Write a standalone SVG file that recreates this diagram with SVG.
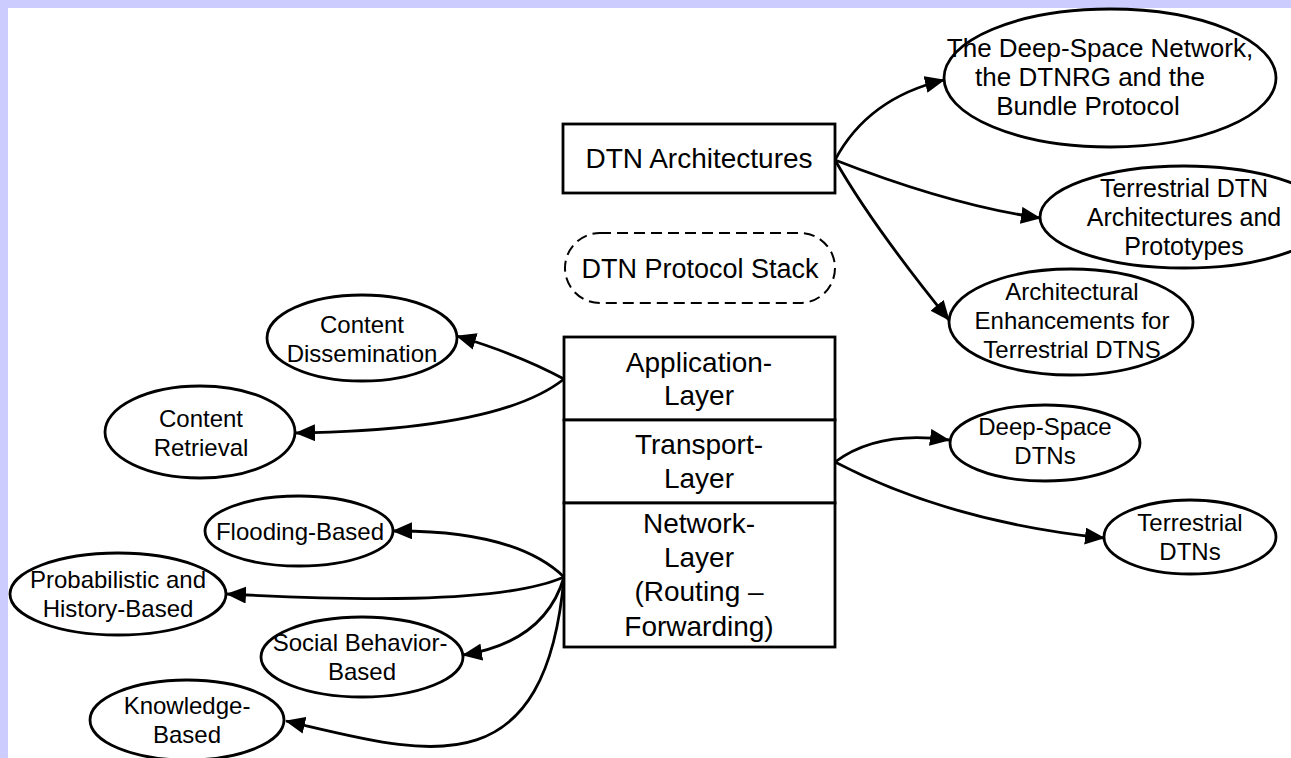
<svg xmlns="http://www.w3.org/2000/svg" width="1291" height="758" viewBox="0 0 1291 758">
  <style>
    .node { fill: #ffffff; stroke: #000000; stroke-width: 2.8; }
    .dash { fill: #ffffff; stroke: #000000; stroke-width: 2; stroke-dasharray: 11 6; }
    .t { font-family: "Liberation Sans", Arial, sans-serif; fill: #000000; text-anchor: middle; }
    .t24 { font-size: 24px; }
    .t25 { font-size: 25px; }
    .t26 { font-size: 26px; }
    .t27 { font-size: 27px; }
    .t28 { font-size: 28px; }
    .edge { fill: none; stroke: #000000; stroke-width: 2.8; marker-end: url(#arrow); }
  </style>
  <defs>
    <marker id="arrow" markerUnits="userSpaceOnUse" markerWidth="20" markerHeight="17" refX="19" refY="8.5" orient="auto">
      <path d="M0,0 L20,8.5 L0,17 z" fill="#000000"/>
    </marker>
  </defs>

  <!-- page background with frame strips -->
  <rect x="0" y="0" width="1291" height="758" fill="#ffffff"/>
  <rect x="0" y="0" width="1291" height="8" fill="#ccccff"/>
  <rect x="0" y="0" width="8" height="758" fill="#ccccff"/>

  <!-- connectors -->
  <g id="connectors">
    <path class="edge" d="M835,160 Q868,98 944,80"/>
    <path class="edge" d="M835,160 Q950,205 1040,218"/>
    <path class="edge" d="M835,160 Q872,225 949,320"/>
    <path class="edge" d="M835,462 Q878,430 949,440"/>
    <path class="edge" d="M835,462 Q950,522 1104,538"/>
    <path class="edge" d="M564,379 Q520,355 457,336"/>
    <path class="edge" d="M564,379 Q500,430 296,433"/>
    <path class="edge" d="M564,577 Q515,530 393,531"/>
    <path class="edge" d="M564,577 C500,605 340,600 227,594"/>
    <path class="edge" d="M564,577 Q545,642 463,655"/>
    <path class="edge" d="M564,577 C545,795 420,752 286,721"/>
  </g>

  <g id="dtn-architectures">
    <rect class="node" x="563" y="124" width="272" height="69"/>
    <text class="t t28" x="699" y="168">DTN Architectures</text>
  </g>

  <g id="deep-space-network">
    <ellipse class="node" cx="1110" cy="78" rx="166" ry="69"/>
    <text class="t t26" x="1100" y="57">The Deep-Space Network,</text>
    <text class="t t26" x="1090" y="86">the DTNRG and the</text>
    <text class="t t26" x="1088" y="115">Bundle Protocol</text>
  </g>

  <g id="terrestrial-architectures">
    <ellipse class="node" cx="1184" cy="217" rx="144" ry="51"/>
    <text class="t t25" x="1184" y="197">Terrestrial DTN</text>
    <text class="t t25" x="1184" y="226">Architectures and</text>
    <text class="t t25" x="1184" y="255">Prototypes</text>
  </g>

  <g id="architectural-enhancements">
    <ellipse class="node" cx="1071" cy="322" rx="122" ry="53"/>
    <text class="t t24" x="1072" y="300">Architectural</text>
    <text class="t t24" x="1072" y="329">Enhancements for</text>
    <text class="t t24" x="1072" y="358">Terrestrial DTNS</text>
  </g>

  <g id="protocol-stack-label">
    <rect class="dash" x="565" y="233" width="270" height="70" rx="35" ry="35"/>
    <text class="t t27" x="700" y="278">DTN Protocol Stack</text>
  </g>

  <g id="application-layer">
    <rect class="node" x="564" y="337" width="271" height="83"/>
    <text class="t t28" x="699" y="372">Application-</text>
    <text class="t t28" x="699" y="405">Layer</text>
  </g>

  <g id="transport-layer">
    <rect class="node" x="564" y="420" width="271" height="83"/>
    <text class="t t28" x="699" y="454">Transport-</text>
    <text class="t t28" x="699" y="488">Layer</text>
  </g>

  <g id="network-layer">
    <rect class="node" x="564" y="503" width="271" height="144"/>
    <text class="t t28" x="699" y="533">Network-</text>
    <text class="t t28" x="699" y="567">Layer</text>
    <text class="t t28" x="699" y="601">(Routing –</text>
    <text class="t t28" x="699" y="636">Forwarding)</text>
  </g>

  <g id="deep-space-dtns">
    <ellipse class="node" cx="1045" cy="443" rx="95" ry="38"/>
    <text class="t t24" x="1045" y="435">Deep-Space</text>
    <text class="t t24" x="1045" y="464">DTNs</text>
  </g>

  <g id="terrestrial-dtns">
    <ellipse class="node" cx="1190" cy="537" rx="86" ry="37"/>
    <text class="t t24" x="1190" y="531">Terrestrial</text>
    <text class="t t24" x="1190" y="560">DTNs</text>
  </g>

  <g id="content-dissemination">
    <ellipse class="node" cx="362" cy="338" rx="95" ry="43"/>
    <text class="t t24" x="362" y="333">Content</text>
    <text class="t t24" x="362" y="362">Dissemination</text>
  </g>

  <g id="content-retrieval">
    <ellipse class="node" cx="200" cy="432" rx="95" ry="46"/>
    <text class="t t24" x="201" y="427">Content</text>
    <text class="t t24" x="201" y="456">Retrieval</text>
  </g>

  <g id="flooding-based">
    <ellipse class="node" cx="299" cy="531" rx="94" ry="35"/>
    <text class="t t24" x="300" y="540">Flooding-Based</text>
  </g>

  <g id="probabilistic-history">
    <ellipse class="node" cx="118" cy="594" rx="108" ry="41"/>
    <text class="t t24" x="118" y="588">Probabilistic and</text>
    <text class="t t24" x="118" y="617">History-Based</text>
  </g>

  <g id="social-behavior">
    <ellipse class="node" cx="362" cy="657" rx="101" ry="40"/>
    <text class="t t24" x="360" y="651">Social Behavior-</text>
    <text class="t t24" x="362" y="680">Based</text>
  </g>

  <g id="knowledge-based">
    <ellipse class="node" cx="187" cy="720" rx="97" ry="40"/>
    <text class="t t24" x="187" y="714">Knowledge-</text>
    <text class="t t24" x="187" y="743">Based</text>
  </g>
</svg>
